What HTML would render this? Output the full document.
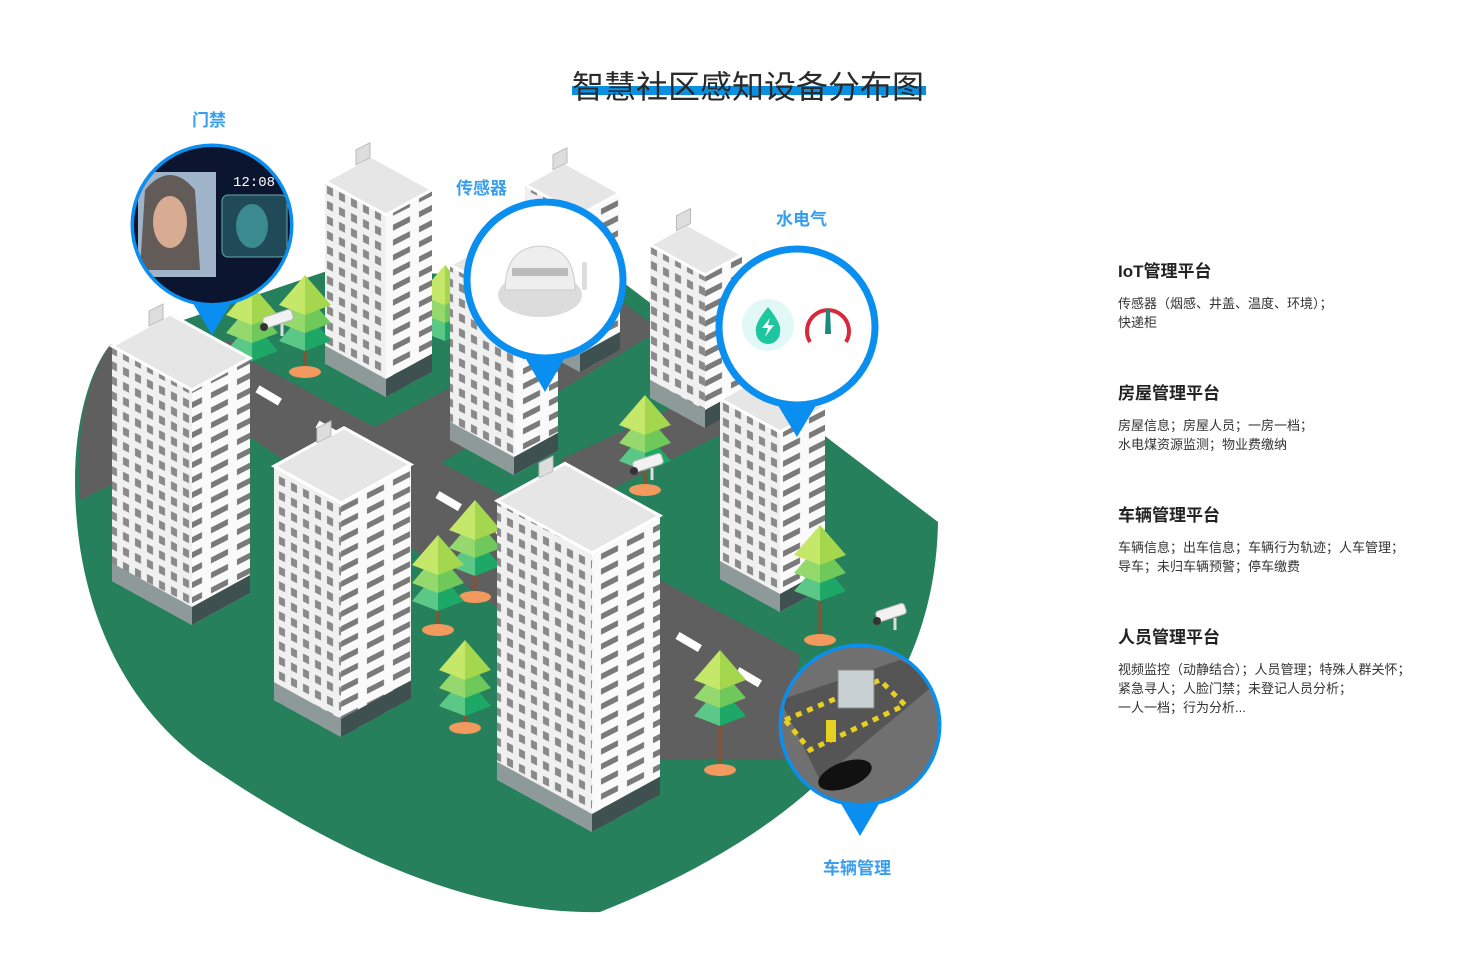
<!DOCTYPE html>
<html><head><meta charset="utf-8"><style>
html,body{margin:0;padding:0;background:#fff;}
body{width:1475px;height:958px;position:relative;overflow:hidden;font-family:"Liberation Sans","Noto Sans CJK SC",sans-serif;}
.t{position:absolute;left:572px;top:62px;font-size:32px;color:#2a2a2a;white-space:nowrap;}
.bar{position:absolute;left:572px;top:86px;width:354px;height:9px;background:#0b8fe0;}
.r{position:absolute;left:1118px;color:#333;}
.r h3{margin:0 0 12px 0;font-size:17px;font-weight:bold;color:#222;line-height:20px;}
.r p{margin:0;font-size:13px;line-height:19px;}
.lb{position:absolute;color:#3a9eee;font-size:17px;font-weight:bold;}
</style></head><body>
<svg id="s" width="1475" height="958" style="position:absolute;left:0;top:0">
<defs>
<pattern id="pl" width="12" height="15" patternUnits="userSpaceOnUse" patternTransform="skewY(27)"><rect width="12" height="15" fill="#f0f0f0"/><rect x="3" y="4" width="6" height="8" fill="#8a8a8a"/></pattern>
<pattern id="pr" width="26" height="15" patternUnits="userSpaceOnUse" patternTransform="skewY(-27)"><rect width="26" height="15" fill="#fafafa"/><rect x="3" y="5" width="17" height="6" fill="#7a7a7a"/></pattern>
<clipPath id="c1"><circle cx="212" cy="225" r="78"/></clipPath>
<clipPath id="c4"><circle cx="860" cy="725" r="78"/></clipPath>
</defs>
<path d="M110 345 L330 270 L620 280 L938 522 C935 690 830 820 600 912 C470 915 330 850 200 760 C120 700 75 600 75 480 C75 420 90 370 110 345 Z" fill="#26805c"/>
<path d="M110 345 L250 340 L250 420 L80 500 C75 440 85 380 110 345Z" fill="#5f5f5f"/>
<polygon points="240,355 800,655 790,720 660,720 240,430" fill="#5f5f5f"/>
<polygon points="320,455 620,300 660,330 380,500" fill="#5f5f5f"/>
<polygon points="560,460 700,395 730,430 600,495" fill="#5f5f5f"/>
<polygon points="660,580 780,690 790,760 660,760" fill="#5f5f5f"/>
<polygon points="400,480 470,520 500,500 500,560 420,530" fill="#5f5f5f"/>
<g id="dash" fill="#fff"></g>
<g id="bld"></g>
</svg>
<div class="bar"></div>
<div class="t">智慧社区感知设备分布图</div>
<div class="lb" style="left:192px;top:106px">门禁</div>
<div class="lb" style="left:456px;top:174px">传感器</div>
<div class="lb" style="left:776px;top:205px">水电气</div>
<div class="lb" style="left:823px;top:854px">车辆管理</div>
<div class="r" style="top:262px"><h3>IoT管理平台</h3><p>传感器（烟感、井盖、温度、环境）；<br>快递柜</p></div>
<div class="r" style="top:384px"><h3>房屋管理平台</h3><p>房屋信息；房屋人员；一房一档；<br>水电煤资源监测；物业费缴纳</p></div>
<div class="r" style="top:506px"><h3>车辆管理平台</h3><p>车辆信息；出车信息；车辆行为轨迹；人车管理；<br>导车；未归车辆预警；停车缴费</p></div>
<div class="r" style="top:628px"><h3>人员管理平台</h3><p>视频监控（动静结合）；人员管理；特殊人群关怀；<br>紧急寻人；人脸门禁；未登记人员分析；<br>一人一档；行为分析...</p></div>
<script>
var NS="http://www.w3.org/2000/svg",g=document.getElementById('bld');
function el(t,a,p){var e=document.createElementNS(NS,t);for(var k in a)e.setAttribute(k,a[k]);(p||g).appendChild(e);return e;}
var d=document.getElementById('dash');
for(var i=0;i<9;i++){var x=258+i*60,y=388+i*60*0.587;el('rect',{x:x,y:y-3,width:26,height:8,transform:'rotate(30.4 '+x+' '+y+')'},d);}
function tree(x,top,base){
 el('line',{x1:x,y1:top+40,x2:x,y2:base,stroke:'#8a5030','stroke-width':3});
 el('ellipse',{cx:x,cy:base,rx:16,ry:6,fill:'#f29a5e'});
 var c=[['#c6e86a','#a4d64e'],['#94d86e','#6ec85a'],['#5cc887','#1ea868']];
 for(var k=2;k>=0;k--){var ty=top+k*18;
  el('polygon',{points:(x-26)+','+(ty+30)+' '+x+','+ty+' '+x+','+(ty+40),fill:c[k][0]});
  el('polygon',{points:(x+26)+','+(ty+30)+' '+x+','+ty+' '+x+','+(ty+40),fill:c[k][1]});}
}
function cam(x,y){el('rect',{x:x,y:y,width:30,height:11,rx:3,fill:'#f2f2f2',stroke:'#bbb',transform:'rotate(-18 '+x+' '+y+')'});el('circle',{cx:x+2,cy:y+9,r:4,fill:'#333'});el('path',{d:'M'+(x+20)+' '+(y+6)+' v12',stroke:'#ddd','stroke-width':3,fill:'none'});}
function b(L,M,R,T,B){var k=0.55,dl=(M-L)*k,dr=(R-M)*k;
 el('polygon',{points:L+','+(T-dl)+' '+M+','+T+' '+M+','+B+' '+L+','+(B-dl),fill:'url(#pl)'});
 el('polygon',{points:M+','+T+' '+R+','+(T-dr)+' '+R+','+(B-dr)+' '+M+','+B,fill:'url(#pr)'});
 el('polygon',{points:L+','+(B-dl-18)+' '+M+','+(B-18)+' '+M+','+B+' '+L+','+(B-dl),fill:'#8e9a9a'});
 el('polygon',{points:M+','+(B-18)+' '+R+','+(B-dr-18)+' '+R+','+(B-dr)+' '+M+','+B,fill:'#3e5050'});
 var bx=L+R-M,by=T-dl-dr;
 el('polygon',{points:L+','+(T-dl)+' '+M+','+T+' '+R+','+(T-dr)+' '+bx+','+by,fill:'#e6e6e6',stroke:'#fff','stroke-width':3});
 var rx=(L+bx)/2+8,ry=(T-dl+by)/2;
 el('polygon',{points:rx+','+(ry-4)+' '+(rx+14)+','+(ry-11)+' '+(rx+14)+','+(ry-26)+' '+rx+','+(ry-19),fill:'#ddd',stroke:'#bbb'});
}
tree(445,265,330);
b(325,386,432,215,397);
b(525,580,620,215,372);
b(650,705,742,275,428);
tree(305,275,372);tree(252,285,342);
b(450,514,558,300,475);
tree(645,395,490);cam(632,462);
b(720,780,825,432,612);
b(112,192,250,390,625);
tree(475,500,597);tree(438,535,630);
b(274,341,411,503,737);
tree(465,640,728);
b(497,592,660,553,832);
tree(720,650,770);tree(820,525,640);cam(875,612);cam(262,318);
function pin(cx,cy,py){el('polygon',{points:(cx-30)+','+(cy+60)+' '+(cx+30)+','+(cy+60)+' '+cx+','+py,fill:'#0a8ff0'});el('circle',{cx:cx,cy:cy,r:78,fill:'#fff',stroke:'#0a8ff0','stroke-width':7});}
pin(212,225,335);
var q=el('g',{'clip-path':'url(#c1)'});
el('rect',{x:130,y:140,width:170,height:170,fill:'#0c1530'},q);
el('rect',{x:138,y:172,width:78,height:105,fill:'#9fb4c8'},q);
el('path',{d:'M145 190 Q170 160 195 190 L200 270 L140 270Z',fill:'#4a3428',opacity:0.7},q);
el('ellipse',{cx:170,cy:222,rx:17,ry:26,fill:'#d8ac92'},q);
el('rect',{x:222,y:195,width:65,height:62,rx:6,fill:'#204a58',stroke:'#6aa'},q);
el('ellipse',{cx:252,cy:226,rx:16,ry:22,fill:'#3a8a90'},q);
var tx=el('text',{x:233,y:186,fill:'#fff','font-size':14,'font-family':'Liberation Mono'},q);tx.textContent='12:08';
pin(545,280,392);
el('ellipse',{cx:540,cy:295,rx:42,ry:22,fill:'#dcdcdc'});
el('path',{d:'M505 290 Q505 248 540 246 Q575 248 575 290Z',fill:'#eee',stroke:'#ccc'});
el('rect',{x:512,y:268,width:56,height:8,fill:'#bbb'});
el('rect',{x:582,y:262,width:5,height:28,rx:2,fill:'#ddd'});
pin(797,327,437);
el('circle',{cx:768,cy:325,r:26,fill:'#e2f8f6'});
el('path',{d:'M768 307 Q782 324 780 332 A12 12 0 0 1 756 332 Q754 324 768 307Z',fill:'#1cc7a0'});
el('path',{d:'M770 318 L762 328 H768 L765 337 L774 325 H768Z',fill:'#fff'});
el('path',{d:'M810 342 A21 21 0 1 1 846 342',fill:'none',stroke:'#d8283a','stroke-width':4});
el('polygon',{points:'826,310 830,310 831,334 825,334',fill:'#1a8a80'});
pin(860,725,836);
var p=el('g',{'clip-path':'url(#c4)'});
el('rect',{x:780,y:645,width:160,height:160,fill:'#707070'},p);
el('polygon',{points:'780,700 900,660 940,680 820,780',fill:'#555'},p);
el('polygon',{points:'785,720 880,680 905,705 810,750',fill:'none',stroke:'#e8d020','stroke-width':5,'stroke-dasharray':'6 6'},p);
el('rect',{x:838,y:670,width:36,height:38,fill:'#c8d0d4',stroke:'#888'},p);
el('rect',{x:826,y:720,width:10,height:22,fill:'#e6d020'},p);
el('ellipse',{cx:845,cy:775,rx:28,ry:13,fill:'#111',transform:'rotate(-20 845 775)'},p);
</script>
</body></html>
